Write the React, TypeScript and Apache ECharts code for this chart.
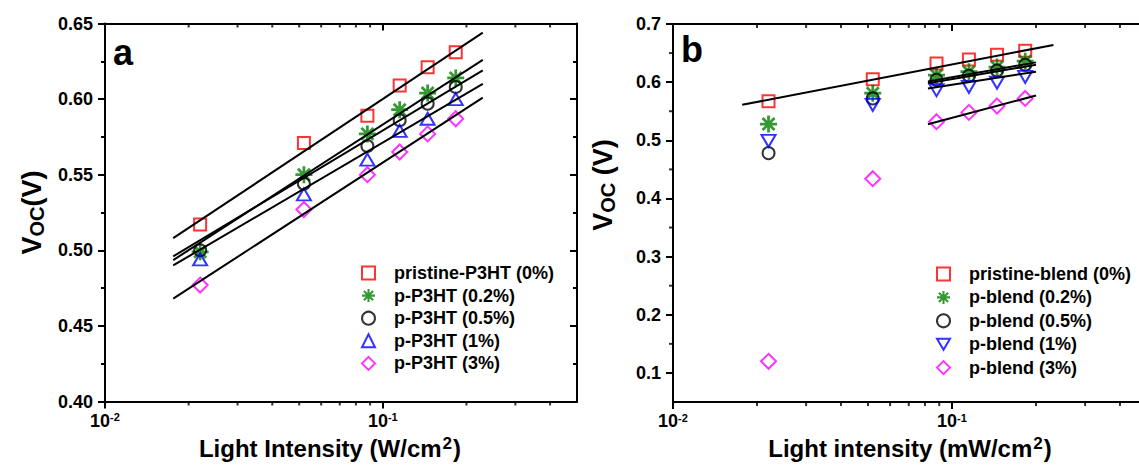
import React, { useEffect, useRef } from "react";
import * as echarts from "echarts";

// ---------- data ----------
const intensity = [0.022, 0.052, 0.088, 0.115, 0.145, 0.183];

const namesA = ["pristine-P3HT (0%)", "p-P3HT (0.2%)", "p-P3HT (0.5%)", "p-P3HT (1%)", "p-P3HT (3%)"];
const vocA0 = [0.517, 0.571, 0.589, 0.609, 0.621, 0.631];
const vocA1 = [0.499, 0.550, 0.577, 0.593, 0.604, 0.614];
const vocA2 = [0.500, 0.544, 0.569, 0.586, 0.597, 0.608];
const vocA3 = [0.494, 0.537, 0.560, 0.579, 0.587, 0.600];
const vocA4 = [0.477, 0.527, 0.550, 0.565, 0.577, 0.587];
const fitRangeA = [0.0176, 0.229];
const fitStartA = [0.508, 0.4935, 0.496, 0.490, 0.468];
const fitEndA = [0.644, 0.626, 0.619, 0.610, 0.601];

const namesB = ["pristine-blend (0%)", "p-blend (0.2%)", "p-blend (0.5%)", "p-blend (1%)", "p-blend (3%)"];
const vocB0 = [0.567, 0.605, 0.632, 0.639, 0.647, 0.654];
const vocB1 = [0.528, 0.581, 0.612, 0.618, 0.626, 0.636];
const vocB2 = [0.478, 0.572, 0.604, 0.611, 0.620, 0.630];
const vocB3 = [0.499, 0.561, 0.586, 0.592, 0.599, 0.609];
const vocB4 = [0.120, 0.434, 0.532, 0.548, 0.559, 0.572];
const fitRangeB = [
  [0.0177, 0.231],
  [0.082, 0.2],
  [0.082, 0.2],
  [0.082, 0.2],
  [0.082, 0.2],
];
const fitStartB = [0.561, 0.601, 0.598, 0.589, 0.5275];
const fitEndB = [0.664, 0.634, 0.630, 0.618, 0.577];

// axis ticks
const xMinorTicks = [0.02, 0.03, 0.04, 0.05, 0.06, 0.07, 0.08, 0.09, 0.2, 0.3, 0.4];
const yMinorTicksB = [0.15, 0.25, 0.35, 0.45, 0.55, 0.65];

// ---------- styling ----------
const FONT = "'Liberation Sans', Arial, Helvetica, sans-serif";
const colors = ["#ff0000", "#008000", "#000000", "#0000ff", "#ff00ff"];
const STAR =
  "path://M-1.6,-10L1.6,-10L1.6,10L-1.6,10Z" +
  "M-10,-1.6L10,-1.6L10,1.6L-10,1.6Z" +
  "M-5.94,-8.20L8.20,5.94L5.94,8.20L-8.20,-5.94Z" +
  "M-8.20,5.94L5.94,-8.20L8.20,-5.94L-5.94,8.20Z";
const DOWN_TRI = "path://M0,0L20,0L10,17Z";
const symbolsA = ["rect", STAR, "circle", "triangle", "diamond"];
const symbolsB = ["rect", STAR, "circle", DOWN_TRI, "diamond"];
const sizes: any[] = [12, 17, 12, [14, 12], 15];
const filled = [false, true, false, false, false];

const boldText = { fontFamily: FONT, fontWeight: "bold" as const, color: "#000" };

function logLabel(v: number) {
  const e = Math.log10(v);
  const r = Math.round(e);
  if (Math.abs(e - r) > 1e-3) return "";
  return "10{sup|" + r + "}";
}

function xAxes(grid: number, title: string, nameShift: number) {
  const common = {
    type: "log",
    logBase: 10,
    gridIndex: grid,
    min: 0.01,
    max: 0.5,
    splitLine: { show: false },
    axisLine: { lineStyle: { color: "#000", width: 2 } },
  };
  return [
    {
      ...common,
      position: "bottom",
      axisTick: { length: 7, lineStyle: { color: "#000", width: 2 } },
      axisLabel: {
        ...boldText,
        fontSize: 18,
        margin: 10,
        formatter: logLabel,
        showMinLabel: true,
        showMaxLabel: false,
        rich: { sup: { ...boldText, fontSize: 11, verticalAlign: "top", padding: [0, 0, 6, 0] } },
      },
      name: title,
      nameLocation: "middle",
      nameGap: 33,
      nameTextStyle: {
        ...boldText,
        fontSize: 24,
        padding: [0, nameShift, 0, 0],
        rich: {
          t: { ...boldText, fontSize: 24 },
          sup: { ...boldText, fontSize: 17, verticalAlign: "top", padding: [0, 1, 10, 1] },
        },
      },
    },
    {
      ...common,
      position: "top",
      axisTick: { inside: true, length: 7, lineStyle: { color: "#000", width: 2 } },
      axisLabel: { show: false },
    },
  ];
}

function markerSeries(names: string[], vals: number[][], syms: string[], xi: number, yi: number) {
  return names.map((n, i) => ({
    type: "scatter",
    name: n,
    xAxisIndex: xi,
    yAxisIndex: yi,
    data: intensity.map((x, k) => [x, vals[i][k]]),
    symbol: syms[i],
    symbolSize: sizes[i],
    itemStyle: filled[i]
      ? { color: colors[i], borderWidth: 0 }
      : { color: "rgba(0,0,0,0)", borderColor: colors[i], borderWidth: 2 },
    z: 2,
    silent: true,
  }));
}

function fitSeries(tag: string, ranges: number[][], st: number[], en: number[], xi: number, yi: number) {
  return st.map((s, i) => ({
    type: "line",
    name: tag + i,
    xAxisIndex: xi,
    yAxisIndex: yi,
    data: [
      [ranges[i][0], s],
      [ranges[i][1], en[i]],
    ],
    symbol: "none",
    lineStyle: { color: "#000", width: 2 },
    z: 3,
    silent: true,
  }));
}

function tickSeries(data: number[][], xi: number, yi: number, size: number[], offset: number[]) {
  return {
    type: "scatter",
    name: "ticks",
    xAxisIndex: xi,
    yAxisIndex: yi,
    data,
    symbol: "rect",
    symbolSize: size,
    symbolOffset: offset,
    itemStyle: { color: "#000" },
    clip: false,
    silent: true,
    z: 4,
  };
}

const legendBase = {
  orient: "vertical",
  itemWidth: 13,
  itemHeight: 13,
  selectedMode: false,
  textStyle: { ...boldText, fontSize: 18, lineHeight: 20, padding: [0, 0, 0, 14] },
};

const yTitleRich = {
  v: { ...boldText, fontSize: 27, lineHeight: 30 },
  s: { ...boldText, fontSize: 20, verticalAlign: "bottom", lineHeight: 24 },
};

const option: any = {
  animation: false,
  backgroundColor: "#fff",
  title: [
    { text: "a", left: 113, top: 34, padding: 0, textStyle: { ...boldText, fontSize: 36 } },
    { text: "b", left: 681, top: 31, padding: 0, textStyle: { ...boldText, fontSize: 36 } },
  ],
  grid: [
    { left: 105, top: 23.5, width: 472, height: 378 },
    { left: 673, top: 24, width: 474, height: 378 },
  ],
  legend: [
    { ...legendBase, data: namesA, left: 356, top: 258, itemGap: 2.6 },
    {
      ...legendBase,
      data: namesB.map((n, i) => (i === 3 ? { name: n, icon: DOWN_TRI } : n)),
      left: 931,
      top: 259,
      itemGap: 3.4,
    },
  ],
  xAxis: [
    ...xAxes(0, "{t|Light Intensity (W/cm}{sup|2}{t|)}", 22),
    ...xAxes(1, "{t|Light intensity (mW/cm}{sup|2}{t|)}", 0),
  ],
  yAxis: [
    {
      type: "value",
      gridIndex: 0,
      position: "left",
      min: 0.4,
      max: 0.65,
      interval: 0.05,
      splitLine: { show: false },
      axisLine: { show: true, lineStyle: { color: "#000", width: 2 } },
      axisTick: { show: true, length: 7, lineStyle: { color: "#000", width: 2 } },
      minorTick: { show: true, splitNumber: 2, length: 4, lineStyle: { color: "#000", width: 2 } },
      minorSplitLine: { show: false },
      axisLabel: { ...boldText, fontSize: 18, margin: 12, formatter: (v: number) => v.toFixed(2) },
      name: "{v|V}{s|OC}{v|(V)}",
      nameLocation: "middle",
      nameGap: 58,
      nameTextStyle: { rich: yTitleRich },
    },
    {
      type: "value",
      gridIndex: 0,
      position: "right",
      min: 0.4,
      max: 0.65,
      interval: 0.05,
      splitLine: { show: false },
      axisLine: { show: true, lineStyle: { color: "#000", width: 2 } },
      axisTick: { show: true, inside: true, length: 7, lineStyle: { color: "#000", width: 2 } },
      minorTick: { show: true, splitNumber: 2, length: 4, lineStyle: { color: "#000", width: 2 } },
      axisLabel: { show: false },
    },
    {
      type: "value",
      gridIndex: 1,
      position: "left",
      min: 0.05,
      max: 0.7,
      splitNumber: 7,
      splitLine: { show: false },
      axisLine: { show: true, lineStyle: { color: "#000", width: 2 } },
      axisTick: { show: true, length: 7, lineStyle: { color: "#000", width: 2 } },
      axisLabel: {
        ...boldText,
        fontSize: 18,
        margin: 12,
        showMinLabel: false,
        formatter: (v: number) => (Math.abs(v * 10 - Math.round(v * 10)) < 1e-6 ? v.toFixed(1) : ""),
      },
      name: "{v|V}{s|OC}{v| (V)}",
      nameLocation: "middle",
      nameGap: 55,
      nameTextStyle: { padding: [0, 0, 0, 56], rich: yTitleRich },
    },
    {
      type: "value",
      gridIndex: 1,
      position: "right",
      min: 0.05,
      max: 0.7,
      splitNumber: 7,
      splitLine: { show: false },
      axisLine: { show: true, lineStyle: { color: "#000", width: 2 } },
      axisTick: { show: true, inside: true, length: 7, lineStyle: { color: "#000", width: 2 } },
      axisLabel: { show: false },
    },
  ],
  series: [
    ...markerSeries(namesA, [vocA0, vocA1, vocA2, vocA3, vocA4], symbolsA, 0, 0),
    ...fitSeries("fitA", [fitRangeA, fitRangeA, fitRangeA, fitRangeA, fitRangeA], fitStartA, fitEndA, 0, 0),
    ...markerSeries(namesB, [vocB0, vocB1, vocB2, vocB3, vocB4], symbolsB, 2, 2),
    ...fitSeries("fitB", fitRangeB, fitStartB, fitEndB, 2, 2),
    tickSeries(xMinorTicks.map((v) => [v, 0.4]), 0, 0, [2, 4], [0, 2]),
    tickSeries(xMinorTicks.map((v) => [v, 0.65]), 0, 0, [2, 4], [0, 2]),
    tickSeries(xMinorTicks.map((v) => [v, 0.05]), 2, 2, [2, 4], [0, 2]),
    tickSeries(xMinorTicks.map((v) => [v, 0.7]), 2, 2, [2, 4], [0, 2]),
    tickSeries(yMinorTicksB.map((v) => [0.01, v]), 2, 2, [4, 2], [-2, 0]),
  ],
};

export default function App() {
  const ref = useRef<HTMLDivElement>(null);
  useEffect(() => {
    const chart = echarts.init(ref.current!, undefined, { renderer: "svg" });
    chart.setOption(option);
    return () => chart.dispose();
  }, []);
  return (
    <div
      style={{
        position: "fixed",
        left: 0,
        top: 0,
        width: 1139,
        height: 466,
        overflow: "hidden",
        background: "#fff",
      }}
    >
      <div ref={ref} style={{ width: 1160, height: 466 }} />
    </div>
  );
}
